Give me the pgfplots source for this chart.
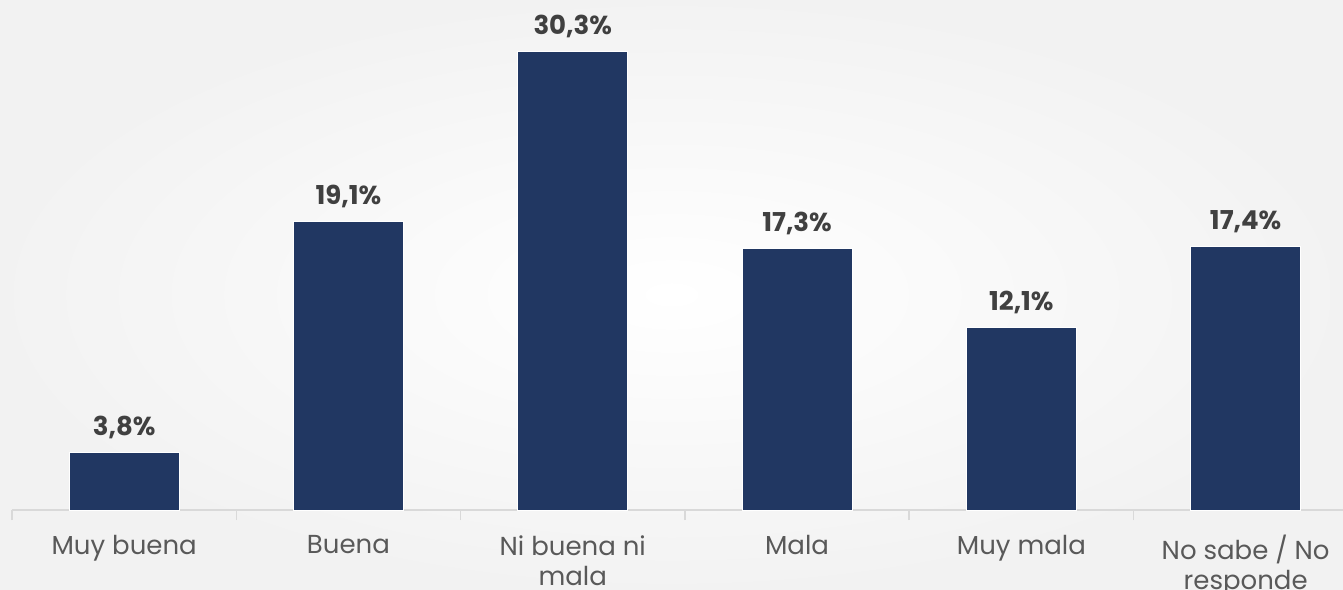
\documentclass[border=0pt]{standalone}
\usepackage{fontspec}
\setmainfont{Poppins}
\usepackage{pgfplots}
\pgfplotsset{compat=1.18}
\definecolor{barblue}{HTML}{213762}
\definecolor{lbl}{HTML}{595959}
\definecolor{val}{HTML}{404040}
\definecolor{axl}{HTML}{D9D9D9}
\begin{document}
\begin{tikzpicture}
\path[use as bounding box] (-6pt,-39.5pt) rectangle (665.5pt,255pt);
\shade[inner color=white, outer color=black!5] (-6pt,-39.5pt) rectangle (665.5pt,255pt);
\begin{axis}[
 at={(0,0)}, anchor=south west,
 scale only axis, width=665.5pt, height=255pt,
 xmin=-0.5, xmax=5.434, ymin=0, ymax=33.73,
 hide y axis, axis x line=bottom,
 x axis line style={-, draw=axl, line width=0.75pt},
 ybar, bar width=0.49,
 xtick={0,...,5},
 xticklabels={Muy buena, Buena, {Ni buena ni\\mala}, Mala, Muy mala, {No sabe / No\\responde}},
 major tick length=0pt,
 minor xtick={-0.5,0.5,1.5,2.5,3.5,4.5,5.5},
 minor tick length=5pt, tick align=outside,
 minor x tick style={draw=axl, line width=0.75pt},
 xticklabel style={align=center, font=\fontsize{13}{15}\selectfont, text=lbl, anchor=north, inner sep=0pt, yshift=-12.5pt},
 nodes near coords={\pgfmathprintnumber{\pgfplotspointmeta}\%},
 nodes near coords style={font=\bfseries\fontsize{13}{15}\selectfont, text=val, anchor=base, yshift=8.5pt, inner sep=0pt},
 clip=false,
 /pgf/number format/.cd, use comma, fixed, fixed zerofill, precision=1, assume math mode=true,
]
\addplot[fill=barblue, draw=white, line width=0.5pt] coordinates {(0,3.8) (1,19.1) (2,30.3) (3,17.3) (4,12.1) (5,17.4)};
\end{axis}
\end{tikzpicture}
\end{document}
